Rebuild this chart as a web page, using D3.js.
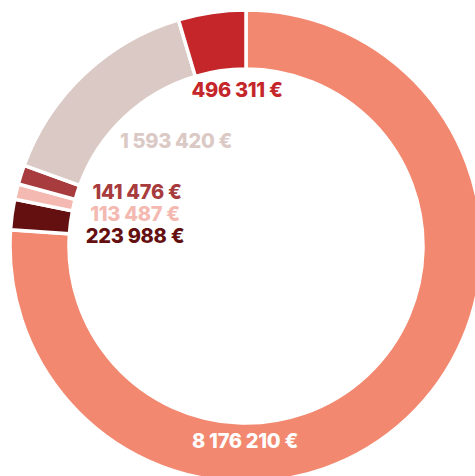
<!DOCTYPE html>
<html>
<head>
<meta charset="utf-8">
<script src="https://cdn.jsdelivr.net/npm/d3@7"></script>
<style>
  body { margin: 0; background: #fff; }
  text { font-family: Inter, Roboto, sans-serif; font-weight: 800; }
</style>
</head>
<body>
<div id="container"></div>
<script>
// data, clockwise from the top
const amounts = [8176210, 223988, 113487, 141476, 1593420, 496311];
const sliceColors = ["#f2886f", "#640f10", "#f4b9b1", "#a73b3d", "#dbc9c5", "#c4262a"];
const labelColors = ["#ffffff", "#640f10", "#f4b9b1", "#a73b3d", "#dbc9c5", "#c4262a"];

const width = 475,
  height = 476,
  cx = 246, cy = 246,
  outerR = 236, innerR = 177;

// label offsets from the centre (layout only)
const labelOffsets = [[-1, 195], [-111, -10], [-111, -32], [-109, -54], [-70, -105], [-9, -156]];

const fmt = v => d3.format(",")(v).replace(/,/g, " ") + " €";

const svg = d3.select("#container")
  .append("svg")
  .attr("width", width)
  .attr("height", height);

const g = svg.append("g").attr("transform", `translate(${cx},${cy})`);

const pie = d3.pie().sort(null).value(d => d);
const arc = d3.arc().innerRadius(innerR).outerRadius(outerR);
const arcs = pie(amounts);

g.selectAll("path")
  .data(arcs)
  .join("path")
  .attr("d", arc)
  .attr("fill", (d, i) => sliceColors[i])
  .attr("stroke", "#fff")
  .attr("stroke-width", 3.5)
  .attr("stroke-linejoin", "miter");

g.selectAll("text.lbl")
  .data(arcs)
  .join("text")
  .attr("class", "lbl")
  .attr("x", (d, i) => labelOffsets[i][0])
  .attr("y", (d, i) => labelOffsets[i][1])
  .attr("dy", "0.36em")
  .attr("text-anchor", "middle")
  .attr("font-size", 20)
  .attr("letter-spacing", -0.3)
  .attr("fill", (d, i) => labelColors[i])
  .text(d => fmt(d.data));
</script>
</body>
</html>
